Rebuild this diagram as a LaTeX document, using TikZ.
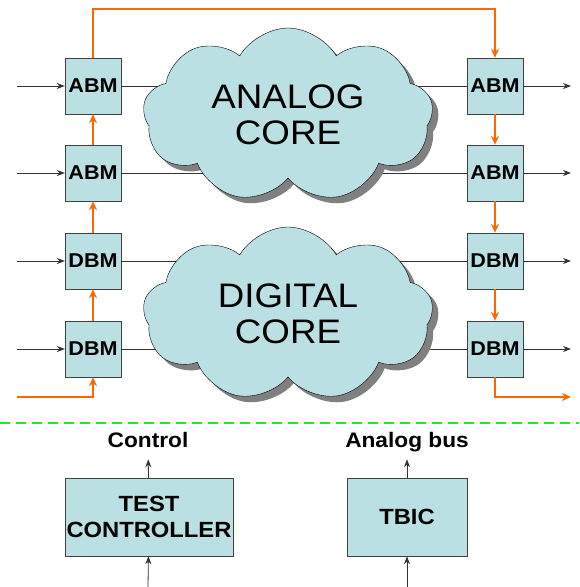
\documentclass[tikz,border=0pt]{standalone}
\usepackage{fontspec}
\setmainfont{Liberation Sans}[FakeStretch=1.08]
\usetikzlibrary{shapes.symbols,shadows,arrows.meta}

\definecolor{cellblue}{RGB}{187,224,227}
\definecolor{scanorange}{RGB}{255,102,0}
\definecolor{sepgreen}{RGB}{40,230,40}

\tikzset{
  cell/.style={draw=black!75,fill=cellblue,minimum width=56pt,minimum height=56pt,
    inner sep=0pt,font=\bfseries\fontsize{20}{22}\selectfont},
  unit/.style={draw=black!75,fill=cellblue,minimum height=78pt,inner sep=0pt,
    align=center,font=\bfseries\fontsize{22}{26}\selectfont},
  core/.style={cloud,cloud puffs=9,cloud puff arc=120,aspect=1.75,draw=black,
    fill=cellblue,align=center,font=\fontsize{34}{36}\selectfont,
    drop shadow={shadow xshift=6pt,shadow yshift=-6pt,fill=black!50,opacity=1}},
  wire/.style={black!80,line width=0.8pt},
  sig/.style={wire,-{Stealth[length=8pt,width=6pt]}},
  scan/.style={scanorange,line width=2.8pt,-{Stealth[length=9pt,width=8pt]}},
  lbl/.style={font=\bfseries\fontsize{21}{24}\selectfont,text depth=0pt,inner xsep=0pt,inner ysep=12pt}
}

\begin{document}
\begin{tikzpicture}[x=1pt,y=-1pt]
  \useasboundingbox (0,0) rectangle (579,587);

  % boundary cells
  \node[cell] (abmL1) at (93,86) {ABM};
  \node[cell] (abmL2) at (93,173) {ABM};
  \node[cell] (dbmL1) at (93,261) {DBM};
  \node[cell] (dbmL2) at (93,349) {DBM};
  \node[cell] (abmR1) at (495,86) {ABM};
  \node[cell] (abmR2) at (495,173) {ABM};
  \node[cell] (dbmR1) at (495,261) {DBM};
  \node[cell] (dbmR2) at (495,349) {DBM};

  % wires through the cores
  \draw[wire] (abmL1.east) -- (abmR1.west);
  \draw[wire] (abmL2.east) -- (abmR2.west);
  \draw[wire] (dbmL1.east) -- (dbmR1.west);
  \draw[wire] (dbmL2.east) -- (dbmR2.west);

  \node[core,minimum width=290pt,minimum height=174pt] (acore) at (288,115) {ANALOG\\CORE};
  \node[core,minimum width=290pt,minimum height=174pt] (dcore) at (288,314) {DIGITAL\\CORE};

  % pins
  \coordinate (inA1) at (17,86);  \coordinate (outA1) at (571,86);
  \coordinate (inA2) at (17,173); \coordinate (outA2) at (571,173);
  \coordinate (inD1) at (17,261); \coordinate (outD1) at (571,261);
  \coordinate (inD2) at (17,349); \coordinate (outD2) at (571,349);
  \draw[sig] (inA1) -- (abmL1);  \draw[sig] (abmR1) -- (outA1);
  \draw[sig] (inA2) -- (abmL2);  \draw[sig] (abmR2) -- (outA2);
  \draw[sig] (inD1) -- (dbmL1);  \draw[sig] (dbmR1) -- (outD1);
  \draw[sig] (inD2) -- (dbmL2);  \draw[sig] (dbmR2) -- (outD2);

  % scan chain
  \coordinate (tdi) at (17,397);
  \coordinate (tdo) at (571,397);
  \draw[scan] (tdi) -| (dbmL2.south);
  \draw[scan] (dbmL2.north) -- (dbmL1.south);
  \draw[scan] (dbmL1.north) -- (abmL2.south);
  \draw[scan] (abmL2.north) -- (abmL1.south);
  \draw[scan] (abmL1.north) -- (abmL1.north |- 0,9) -| (abmR1.north);
  \draw[scan] (abmR1.south) -- (abmR2.north);
  \draw[scan] (abmR2.south) -- (dbmR1.north);
  \draw[scan] (dbmR1.south) -- (dbmR2.north);
  \draw[scan] (dbmR2.south) |- (tdo);

  \draw[sepgreen,line width=1.5pt,dash pattern=on 10pt off 6pt] (0,423) -- (579,423);

  % test control side
  \node[unit,minimum width=168pt] (tctl) at (149,517) {TEST\\CONTROLLER};
  \node[unit,minimum width=120pt] (tbic) at (407,517) {TBIC};
  \node[lbl] (ctl) at (148,439.5) {Control};
  \node[lbl] (abus) at (407,439.5) {Analog bus};
  \coordinate (tcin) at (148,587);
  \coordinate (tbin) at (407,587);
  \draw[sig] (tctl) -- (ctl);
  \draw[sig] (tbic) -- (abus);
  \draw[sig] (tcin) -- (tctl);
  \draw[sig] (tbin) -- (tbic);
\end{tikzpicture}
\end{document}
